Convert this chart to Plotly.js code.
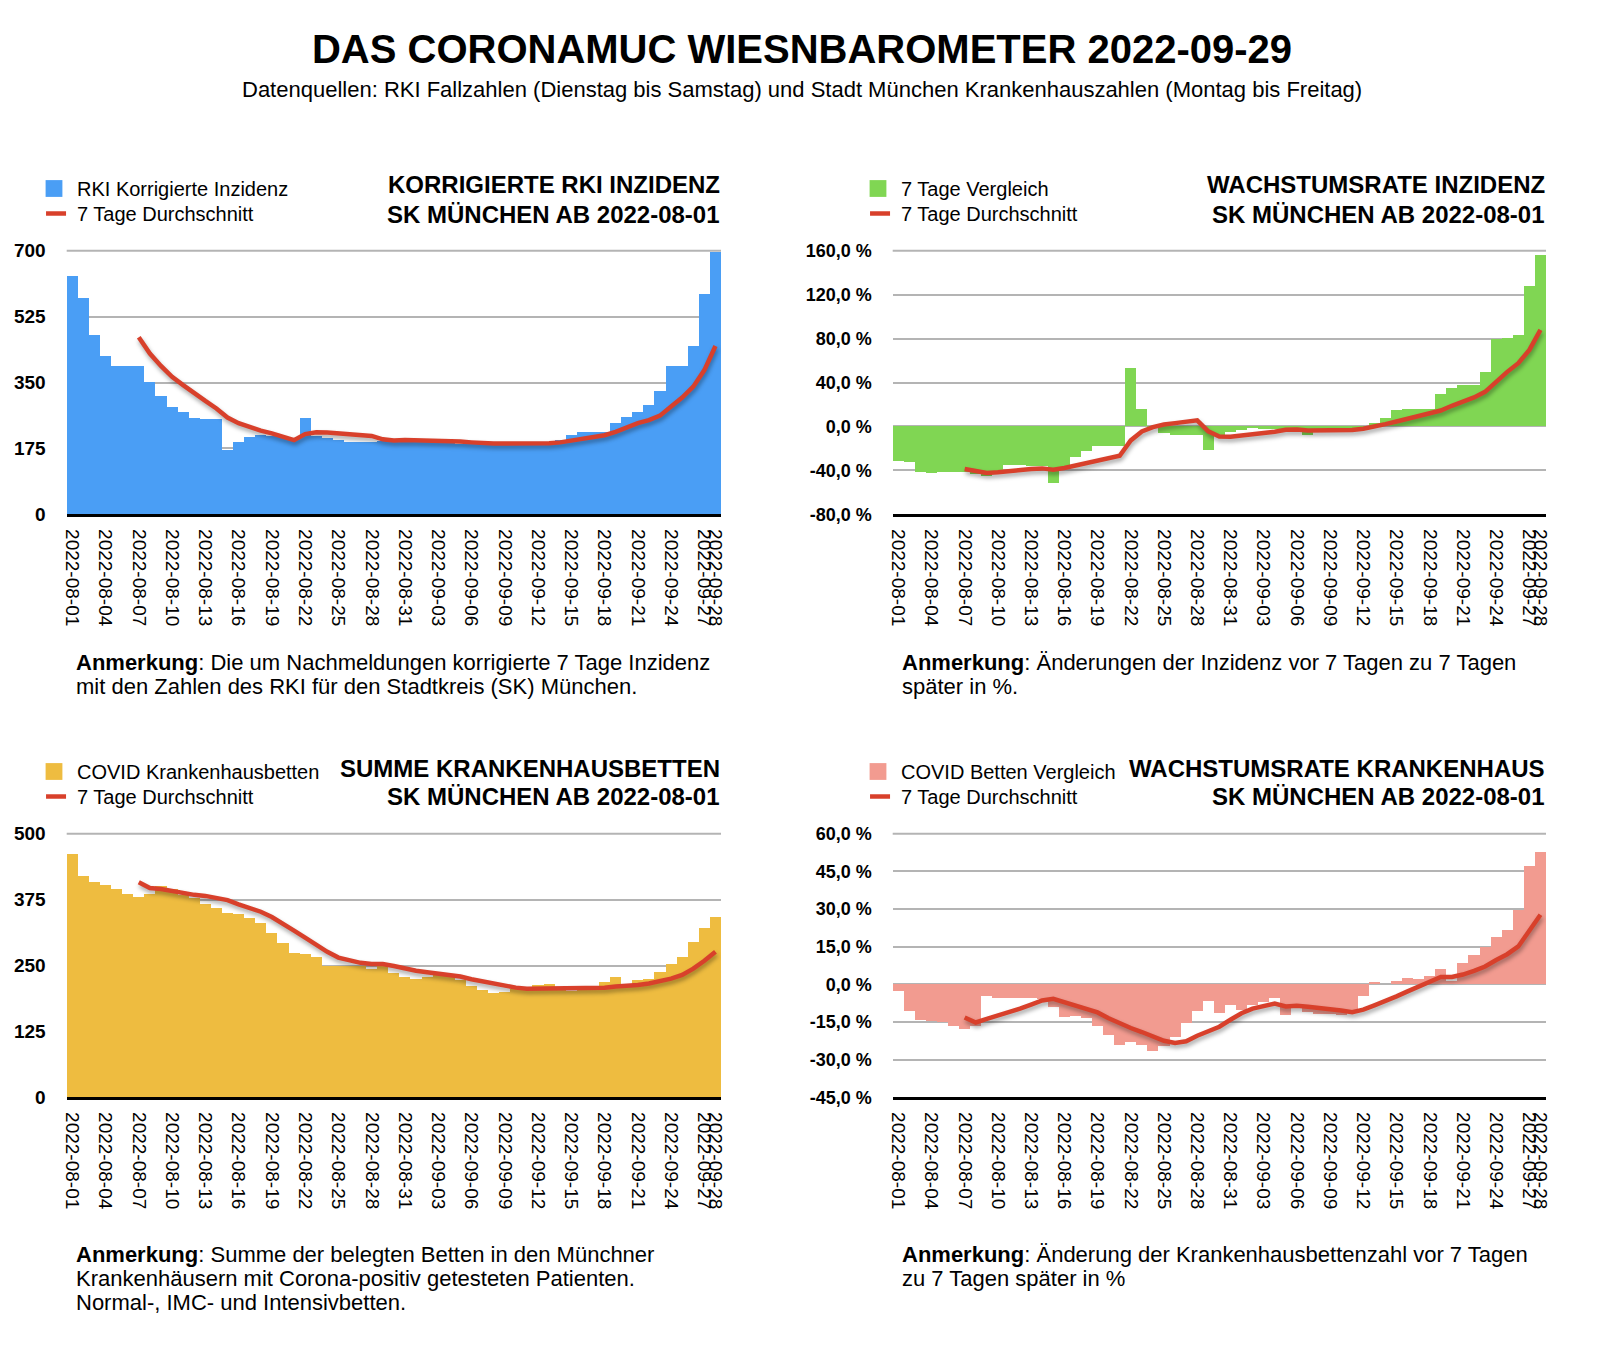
<!DOCTYPE html>
<html>
<head>
<meta charset="utf-8">
<script src="https://cdn.plot.ly/plotly-3.0.1.min.js"></script>
<style>
  html, body { margin: 0; padding: 0; background: #fff; }
  #chart { width: 1604px; height: 1346px; }
  /* soft shadow under the 7-day lines */
  #chart .scatterlayer .js-line { filter: drop-shadow(1px 3px 2px rgba(0, 0, 0, 0.35)); }
  /* bigger square and shorter dash in the legends, like the original */
  #chart .legend .legendpoints path,
  #chart .legend2 .legendpoints path,
  #chart .legend3 .legendpoints path,
  #chart .legend4 .legendpoints path { transform: translate(17px, 0px) scale(1.4); }
  #chart .legend5 .legendlines path,
  #chart .legend6 .legendlines path,
  #chart .legend7 .legendlines path,
  #chart .legend8 .legendlines path { transform: translate(5.7px, 0px) scaleX(0.667); }
</style>
</head>
<body>
<div id="chart"></div>
<script>
const dates = [
  '2022-08-01', '2022-08-02', '2022-08-03', '2022-08-04', '2022-08-05', '2022-08-06', '2022-08-07',
  '2022-08-08', '2022-08-09', '2022-08-10', '2022-08-11', '2022-08-12', '2022-08-13', '2022-08-14',
  '2022-08-15', '2022-08-16', '2022-08-17', '2022-08-18', '2022-08-19', '2022-08-20', '2022-08-21',
  '2022-08-22', '2022-08-23', '2022-08-24', '2022-08-25', '2022-08-26', '2022-08-27', '2022-08-28',
  '2022-08-29', '2022-08-30', '2022-08-31', '2022-09-01', '2022-09-02', '2022-09-03', '2022-09-04',
  '2022-09-05', '2022-09-06', '2022-09-07', '2022-09-08', '2022-09-09', '2022-09-10', '2022-09-11',
  '2022-09-12', '2022-09-13', '2022-09-14', '2022-09-15', '2022-09-16', '2022-09-17', '2022-09-18',
  '2022-09-19', '2022-09-20', '2022-09-21', '2022-09-22', '2022-09-23', '2022-09-24', '2022-09-25',
  '2022-09-26', '2022-09-27', '2022-09-28',
];

const tickDates = [
  '2022-08-01', '2022-08-04', '2022-08-07', '2022-08-10', '2022-08-13', '2022-08-16', '2022-08-19',
  '2022-08-22', '2022-08-25', '2022-08-28', '2022-08-31', '2022-09-03', '2022-09-06', '2022-09-09',
  '2022-09-12', '2022-09-15', '2022-09-18', '2022-09-21', '2022-09-24', '2022-09-27', '2022-09-28',
];

// RKI korrigierte Inzidenz
const inzidenz = [
  633, 575, 476, 420, 394, 394, 394, 351, 314, 285, 272, 256, 253, 253, 170, 192, 205, 211, 209, 205,
  200, 256, 208, 203, 196, 191, 191, 191, 195, 192, 192, 193, 193, 192, 190, 188, 187, 186, 186, 187,
  187, 188, 188, 190, 196, 211, 219, 219, 219, 243, 258, 272, 290, 327, 394, 394, 447, 585, 697,
];
const inzidenzAvg = [
  null, null, null, null, null, null,
  470, 427, 394, 365, 343, 321, 301, 281, 257, 242, 231, 222, 215, 206, 197, 213, 218, 217, 215, 213,
  211, 208, 199, 196, 197, 196, 196, 196, 196, 193, 191, 189, 188, 188, 188, 188, 188, 189, 191, 196,
  200, 204, 210, 219, 231, 242, 250, 262, 286, 310, 339, 383, 447,
];

// Wachstumsrate Inzidenz (%)
const inzVergleich = [
  -31.5, -32.7, -41.8, -42.7, -41.8, -41.8, -41.8, -43.3, -45.5, -41.5, -34.8, -34.8, -35.8, -35.8,
  -51.8, -37, -27.6, -22.7, -18.2, -18.2, -18.2, 53.6, 16, -0.5, -6, -8.2, -8.2, -8, -21.8, -9, -5,
  -3, -1, -2, -2, -5, -4, -8, -2, -2, -2, -2, -1, 3, 7.6, 15, 15.8, 15.8, 15.8, 29.7, 34.8, 37.3, 37.3,
  49.7, 79.7, 80.3, 83, 127.9, 156,
];
const inzVergleichAvg = [
  null, null, null, null, null, null,
  -38.8, -40.6, -42.4, -41.8, -40.6, -39.7, -38.8, -38.2, -39.4, -37.9, -35.8, -33.3, -30.9, -28.5,
  -26.7, -12.7, -4.5, -0.6, 1.8, 3, 4.2, 5.5, -4.5, -9.1, -9.4, -8.5, -7.3, -6.1, -4.8, -3, -2.7, -3.6,
  -3.6, -3.6, -3.6, -3.3, -2.1, -0.3, 2.1, 4.5, 7, 9, 11.2, 14.5, 18.8, 22.7, 26.4, 31.5, 40.9, 49.7,
  57.6, 69.7, 87.9,
];

// COVID Krankenhausbetten
const betten = [
  461, 419, 408, 402, 395, 385, 379, 386, 400, 396, 383, 378, 366, 359, 350, 347, 340, 330, 311, 292,
  274, 272, 266, 250, 250, 249, 249, 244, 252, 236, 228, 225, 228, 232, 232, 223, 211, 203, 198, 200,
  205, 206, 213, 215, 208, 201, 206, 210, 218, 228, 215, 222, 224, 238, 253, 266, 295, 321, 342,
];
const bettenAvg = [
  null, null, null, null, null, null,
  408, 397, 395, 391, 388, 384, 382, 379, 374, 366, 359, 352, 342, 330, 316, 303, 289, 276, 265, 259,
  255, 253, 253, 249, 244, 240, 237, 235, 233, 229, 224, 220, 215, 211, 208, 206, 206, 206, 206, 206,
  207, 208, 208, 210, 211, 213, 216, 220, 225, 232, 244, 259, 276,
];

// Wachstumsrate Krankenhaus (%)
const bettenVergleich = [
  -2.8, -10.8, -14.1, -14.5, -15, -16.7, -17.8, -16.7, -4.5, -5.3, -5.6, -5.6, -5.6, -5.8, -9.1, -13,
  -12.8, -13.3, -16.4, -20.1, -24, -22.8, -24, -26.7, -24.7, -20.9, -15.5, -10.8, -6.5, -11.4, -8.1,
  -10.1, -8.1, -7.1, -5.5, -12.4, -9.5, -10.9, -11.7, -11.7, -12.1, -11.4, -4.5, 1, 0, 1.4, 2.6, 2.2,
  3.5, 6.1, 1.4, 8.6, 11.8, 14.7, 18.9, 21.8, 29.5, 47.1, 52.8,
];
const bettenVergleichAvg = [
  null, null, null, null, null, null,
  -13.2, -15.2, -13.8, -12.5, -11.2, -9.7, -8.1, -6.4, -5.8, -7.1, -8.3, -9.5, -11.2, -13.5, -15.7,
  -17.4, -19, -20.9, -22.5, -23.4, -22.7, -20.5, -18.9, -16.9, -14.1, -11.5, -9.7, -8.5, -7.7, -8.8,
  -8.5, -8.9, -9.3, -9.8, -10.4, -11.1, -10.1, -8.4, -6.8, -4.8, -2.8, -0.9, 1.1, 2.9, 2.9, 3.9, 5.4,
  7.1, 9.7, 12, 15.1, 21.7, 27.7,
];

const inzTicks = [0, 175, 350, 525, 700];
const inzTickText = ['0', '175', '350', '525', '700'];
const inzPctTicks = [-80, -40, 0, 40, 80, 120, 160];
const inzPctTickText = ['-80,0 %', '-40,0 %', '0,0 %', '40,0 %', '80,0 %', '120,0 %', '160,0 %'];
const bettenTicks = [0, 125, 250, 375, 500];
const bettenTickText = ['0', '125', '250', '375', '500'];
const bettenPctTicks = [-45, -30, -15, 0, 15, 30, 45, 60];
const bettenPctTickText = ['-45,0 %', '-30,0 %', '-15,0 %', '0,0 %', '15,0 %', '30,0 %', '45,0 %', '60,0 %'];

const RED = '#d8402b';
const GRID = '#b4b4b4';
const W = 1604;
const H = 1346;
const px = (v) => v / W;
const py = (v) => 1 - v / H;

const barTrace = (y, name, color, n, lg) => ({
  x: dates,
  y: y,
  name: name,
  type: 'bar',
  marker: { color: color, line: { width: 0 } },
  xaxis: 'x' + n,
  yaxis: 'y' + n,
  legend: lg,
  hoverinfo: 'skip',
});

const lineTrace = (y, n, lg) => ({
  x: dates,
  y: y,
  name: '7 Tage Durchschnitt',
  type: 'scatter',
  mode: 'lines',
  line: { color: RED, width: 4.5 },
  connectgaps: false,
  xaxis: 'x' + n,
  yaxis: 'y' + n,
  legend: lg,
  hoverinfo: 'skip',
});

const data = [
  barTrace(inzidenz, 'RKI Korrigierte Inzidenz', '#4a9ef5', '', 'legend'),
  lineTrace(inzidenzAvg, '', 'legend5'),
  barTrace(inzVergleich, '7 Tage Vergleich', '#80d653', '2', 'legend2'),
  lineTrace(inzVergleichAvg, '2', 'legend6'),
  barTrace(betten, 'COVID Krankenhausbetten', '#eebc40', '3', 'legend3'),
  lineTrace(bettenAvg, '3', 'legend7'),
  barTrace(bettenVergleich, 'COVID Betten Vergleich', '#f29b90', '4', 'legend4'),
  lineTrace(bettenVergleichAvg, '4', 'legend8'),
];

const xAxis = (left, right, anchor) => ({
  domain: [px(left), px(right)],
  anchor: anchor,
  type: 'category',
  range: [-0.5, dates.length - 0.5],
  tickmode: 'array',
  tickvals: tickDates,
  ticktext: tickDates,
  tickangle: 90,
  ticks: '',
  ticklabelstandoff: 8,
  tickfont: { size: 19, color: '#000' },
  showgrid: false,
  zeroline: false,
  showline: true,
  linecolor: '#000',
  linewidth: 3,
  fixedrange: true,
});

const yAxis = (top, bottom, range, vals, text, anchor, size) => ({
  domain: [py(bottom), py(top)],
  anchor: anchor,
  range: range,
  tickmode: 'array',
  tickvals: vals,
  ticktext: text,
  ticks: '',
  ticklabelstandoff: 20,
  tickfont: { size: size, color: '#000', weight: 'bold' },
  showgrid: true,
  gridcolor: GRID,
  gridwidth: 2,
  zeroline: false,
  showline: false,
  fixedrange: true,
});

const legendAt = (left, top) => ({
  x: px(left),
  y: py(top),
  xanchor: 'left',
  yanchor: 'top',
  bgcolor: 'rgba(0,0,0,0)',
  font: { size: 20, color: '#000' },
  tracegroupgap: 0,
});

// grey line along the top of each plot (plotly skips the grid at the range edge)
const topLine = (n) => ({
  type: 'line',
  xref: 'x' + n + ' domain',
  yref: 'y' + n + ' domain',
  x0: 0, x1: 1, y0: 1, y1: 1,
  line: { color: GRID, width: 2 },
  layer: 'below',
});

const text = (str, x, y, anchor, size) => ({
  text: str,
  x: px(x),
  y: py(y),
  xref: 'paper',
  yref: 'paper',
  xanchor: anchor,
  yanchor: 'middle',
  showarrow: false,
  font: { size: size, color: '#000' },
});

const layout = {
  width: W,
  height: H,
  margin: { l: 0, r: 0, t: 0, b: 0 },
  paper_bgcolor: '#fff',
  plot_bgcolor: '#fff',
  font: { family: '"Liberation Sans", Arial, Helvetica, sans-serif', color: '#000' },
  bargap: 0,
  showlegend: true,
  title: {
    text: '<b>DAS CORONAMUC WIESNBAROMETER 2022-09-29</b>',
    x: 0.5,
    xanchor: 'center',
    y: py(49),
    yanchor: 'middle',
    font: { size: 40, color: '#000' },
  },
  xaxis: xAxis(66.7, 721, 'y'),
  yaxis: yAxis(250.7, 514.3, [0, 700], inzTicks, inzTickText, 'x', 19),
  xaxis2: xAxis(892.7, 1546, 'y2'),
  yaxis2: yAxis(250.7, 514.3, [-80, 160], inzPctTicks, inzPctTickText, 'x2', 18),
  xaxis3: xAxis(66.7, 721, 'y3'),
  yaxis3: yAxis(833.7, 1097.3, [0, 500], bettenTicks, bettenTickText, 'x3', 19),
  xaxis4: xAxis(892.7, 1546, 'y4'),
  yaxis4: yAxis(833.7, 1097.3, [-45, 60], bettenPctTicks, bettenPctTickText, 'x4', 18),
  legend: legendAt(37, 169),
  legend5: legendAt(37, 194),
  legend2: legendAt(861, 169),
  legend6: legendAt(861, 194),
  legend3: legendAt(37, 752),
  legend7: legendAt(37, 777),
  legend4: legendAt(861, 752),
  legend8: legendAt(861, 777),
  shapes: [topLine(''), topLine('2'), topLine('3'), topLine('4')],
  annotations: [
    text('Datenquellen: RKI Fallzahlen (Dienstag bis Samstag) und Stadt München Krankenhauszahlen (Montag bis Freitag)', 802, 90, 'center', 22),

    text('<b>KORRIGIERTE RKI INZIDENZ</b>', 722, 185, 'right', 24),
    text('<b>SK MÜNCHEN AB 2022-08-01</b>', 722, 214, 'right', 24),
    text('<b>WACHSTUMSRATE INZIDENZ</b>', 1547, 185, 'right', 24),
    text('<b>SK MÜNCHEN AB 2022-08-01</b>', 1547, 214, 'right', 24),
    text('<b>SUMME KRANKENHAUSBETTEN</b>', 722, 768, 'right', 24),
    text('<b>SK MÜNCHEN AB 2022-08-01</b>', 722, 796, 'right', 24),
    text('<b>WACHSTUMSRATE KRANKENHAUS</b>', 1547, 768, 'right', 24),
    text('<b>SK MÜNCHEN AB 2022-08-01</b>', 1547, 796, 'right', 24),

    text('<b>Anmerkung</b>: Die um Nachmeldungen korrigierte 7 Tage Inzidenz', 74, 662, 'left', 22),
    text('mit den Zahlen des RKI für den Stadtkreis (SK) München.', 74, 686, 'left', 22),
    text('<b>Anmerkung</b>: Änderungen der Inzidenz vor 7 Tagen zu 7 Tagen', 900, 662, 'left', 22),
    text('später in %.', 900, 686, 'left', 22),
    text('<b>Anmerkung</b>: Summe der belegten Betten in den Münchner', 74, 1254, 'left', 22),
    text('Krankenhäusern mit Corona-positiv getesteten Patienten.', 74, 1278, 'left', 22),
    text('Normal-, IMC- und Intensivbetten.', 74, 1302, 'left', 22),
    text('<b>Anmerkung</b>: Änderung der Krankenhausbettenzahl vor 7 Tagen', 900, 1254, 'left', 22),
    text('zu 7 Tagen später in %', 900, 1278, 'left', 22),
  ],
};

Plotly.newPlot('chart', data, layout, { displayModeBar: false, staticPlot: true });
</script>
</body>
</html>
